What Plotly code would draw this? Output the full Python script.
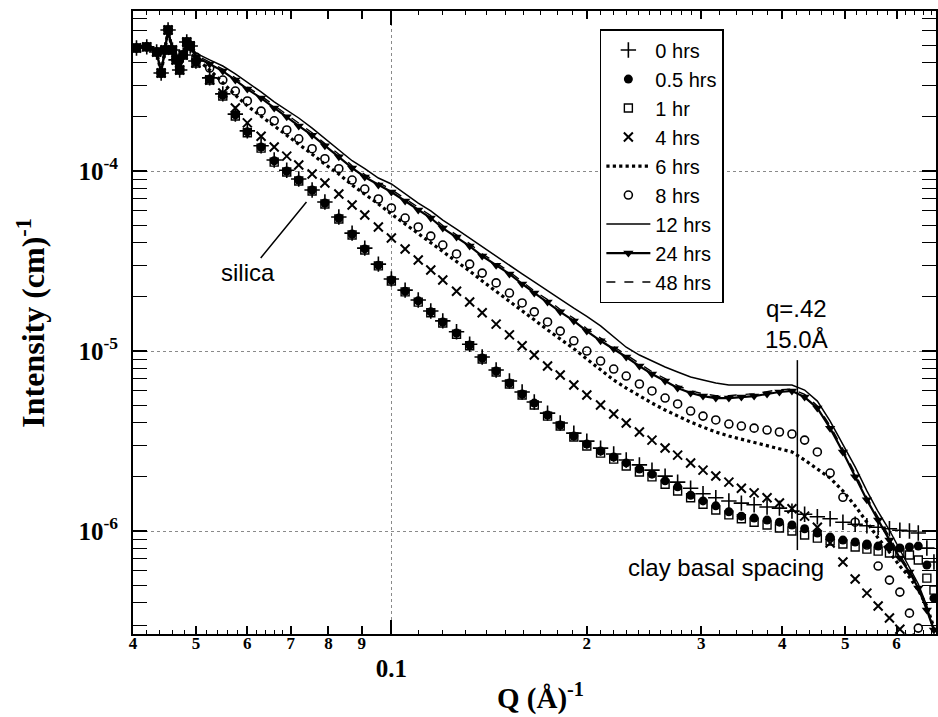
import numpy as np
import plotly.graph_objects as go

# ---------------- data ----------------
# low-q region, common to all samples
q_low = [0.0405, 0.042, 0.0435, 0.0442, 0.0448, 0.0453, 0.046, 0.0466, 0.0472, 0.0478, 0.0484, 0.049]
I_low = [4.82e-4, 4.89e-4, 4.58e-4, 3.50e-4, 4.70e-4, 6.07e-4, 4.70e-4, 4.14e-4, 3.64e-4, 4.41e-4, 5.21e-4, 4.95e-4]

q_main = [0.050, 0.0525, 0.055, 0.0575, 0.060, 0.063, 0.066, 0.069, 0.072, 0.0755,
          0.079, 0.083, 0.087, 0.091, 0.0955, 0.100, 0.105, 0.110, 0.115, 0.120,
          0.126, 0.132, 0.138, 0.145, 0.152, 0.159, 0.166, 0.174, 0.182, 0.191,
          0.200, 0.210, 0.220, 0.230, 0.241, 0.252, 0.264, 0.276, 0.289, 0.302,
          0.316, 0.331, 0.346, 0.362, 0.379, 0.396, 0.414, 0.433, 0.453, 0.474,
          0.496, 0.518, 0.540, 0.562, 0.585, 0.607, 0.628, 0.648, 0.668, 0.685]

I_0h = [4.08e-4, 3.29e-4, 2.68e-4, 2.07e-4, 1.67e-4, 1.38e-4, 1.15e-4, 1.01e-4, 9.03e-5, 7.84e-5,
        6.73e-5, 5.55e-5, 4.52e-5, 3.73e-5, 3.04e-5, 2.51e-5, 2.18e-5, 1.92e-5, 1.67e-5, 1.47e-5,
        1.28e-5, 1.09e-5, 9.26e-6, 7.84e-6, 6.81e-6, 5.92e-6, 5.21e-6, 4.52e-6, 3.98e-6, 3.50e-6,
        3.16e-6, 2.89e-6, 2.68e-6, 2.48e-6, 2.33e-6, 2.18e-6, 2.02e-6, 1.87e-6, 1.73e-6, 1.61e-6,
        1.53e-6, 1.47e-6, 1.43e-6, 1.40e-6, 1.36e-6, 1.34e-6, 1.29e-6, 1.24e-6, 1.20e-6, 1.17e-6,
        1.12e-6, 1.09e-6, 1.07e-6, 1.05e-6, 1.03e-6, 1.01e-6, 1.00e-6, 9.75e-7, 8.05e-7, 6.73e-7]

I_05h = [4.03e-4, 3.24e-4, 2.64e-4, 2.05e-4, 1.65e-4, 1.36e-4, 1.14e-4, 1.00e-4, 8.91e-5, 7.84e-5,
         6.64e-5, 5.48e-5, 4.47e-5, 3.69e-5, 3.00e-5, 2.48e-5, 2.15e-5, 1.90e-5, 1.65e-5, 1.45e-5,
         1.26e-5, 1.08e-5, 9.14e-6, 7.74e-6, 6.64e-6, 5.77e-6, 5.14e-6, 4.41e-6, 3.88e-6, 3.37e-6,
         3.04e-6, 2.78e-6, 2.58e-6, 2.39e-6, 2.21e-6, 2.07e-6, 1.90e-6, 1.76e-6, 1.58e-6, 1.47e-6,
         1.38e-6, 1.28e-6, 1.21e-6, 1.18e-6, 1.15e-6, 1.12e-6, 1.08e-6, 1.03e-6, 9.75e-7, 9.26e-7,
         8.91e-7, 8.69e-7, 8.47e-7, 8.25e-7, 8.15e-7, 8.05e-7, 8.15e-7, 8.25e-7, 6.47e-7, 4.24e-7]

I_1h = [3.98e-4, 3.20e-4, 2.61e-4, 2.02e-4, 1.63e-4, 1.34e-4, 1.12e-4, 9.87e-5, 8.80e-5, 7.74e-5,
        6.56e-5, 5.41e-5, 4.41e-5, 3.64e-5, 2.97e-5, 2.45e-5, 2.13e-5, 1.87e-5, 1.63e-5, 1.43e-5,
        1.24e-5, 1.07e-5, 9.03e-6, 7.64e-6, 6.56e-6, 5.70e-6, 5.01e-6, 4.35e-6, 3.83e-6, 3.33e-6,
        2.97e-6, 2.71e-6, 2.51e-6, 2.30e-6, 2.13e-6, 2.00e-6, 1.82e-6, 1.67e-6, 1.53e-6, 1.41e-6,
        1.31e-6, 1.23e-6, 1.17e-6, 1.12e-6, 1.08e-6, 1.04e-6, 1.00e-6, 9.50e-7, 9.14e-7, 8.80e-7,
        8.47e-7, 8.15e-7, 7.94e-7, 7.74e-7, 7.55e-7, 7.55e-7, 7.36e-7, 6.90e-7, 5.48e-7, 4.70e-7]

I_4h = [3.98e-4, 3.20e-4, 2.71e-4, 2.24e-4, 1.85e-4, 1.56e-4, 1.36e-4, 1.21e-4, 1.08e-4, 9.62e-5,
        8.58e-5, 7.45e-5, 6.47e-5, 5.70e-5, 4.89e-5, 4.24e-5, 3.69e-5, 3.20e-5, 2.82e-5, 2.48e-5,
        2.15e-5, 1.87e-5, 1.63e-5, 1.41e-5, 1.23e-5, 1.07e-5, 9.50e-6, 8.25e-6, 7.36e-6, 6.47e-6,
        5.70e-6, 5.01e-6, 4.47e-6, 3.98e-6, 3.55e-6, 3.20e-6, 2.89e-6, 2.64e-6, 2.39e-6, 2.18e-6,
        2.02e-6, 1.87e-6, 1.73e-6, 1.63e-6, 1.53e-6, 1.43e-6, 1.33e-6, 1.21e-6, 1.05e-6, 8.58e-7,
        6.73e-7, 5.41e-7, 4.52e-7, 3.83e-7, 3.29e-7, 2.85e-7, 2.54e-7, 2.24e-7, 1.92e-7, 1.69e-7]

I_6h = [4.24e-4, 3.64e-4, 3.08e-4, 2.64e-4, 2.30e-4, 2.02e-4, 1.78e-4, 1.58e-4, 1.41e-4, 1.24e-4,
        1.09e-4, 9.62e-5, 8.36e-5, 7.45e-5, 6.56e-5, 5.77e-5, 5.08e-5, 4.52e-5, 4.03e-5, 3.59e-5,
        3.16e-5, 2.78e-5, 2.45e-5, 2.15e-5, 1.90e-5, 1.67e-5, 1.49e-5, 1.31e-5, 1.17e-5, 1.03e-5,
        9.03e-6, 7.84e-6, 6.90e-6, 6.23e-6, 5.62e-6, 5.14e-6, 4.70e-6, 4.35e-6, 4.03e-6, 3.78e-6,
        3.55e-6, 3.37e-6, 3.24e-6, 3.12e-6, 3.00e-6, 2.89e-6, 2.75e-6, 2.48e-6, 2.21e-6, 1.97e-6,
        1.67e-6, 1.38e-6, 1.12e-6, 9.14e-7, 7.64e-7, 6.39e-7, 5.55e-7, 4.70e-7, 3.83e-7, 2.89e-7]

I_8h = [4.30e-4, 3.73e-4, 3.20e-4, 2.78e-4, 2.45e-4, 2.15e-4, 1.90e-4, 1.69e-4, 1.51e-4, 1.33e-4,
        1.17e-4, 1.03e-4, 8.91e-5, 7.94e-5, 6.99e-5, 6.23e-5, 5.48e-5, 4.89e-5, 4.35e-5, 3.88e-5,
        3.46e-5, 3.04e-5, 2.71e-5, 2.39e-5, 2.10e-5, 1.85e-5, 1.65e-5, 1.45e-5, 1.29e-5, 1.14e-5,
        1.00e-5, 8.80e-6, 7.94e-6, 7.26e-6, 6.56e-6, 6.00e-6, 5.48e-6, 5.08e-6, 4.64e-6, 4.35e-6,
        4.14e-6, 3.93e-6, 3.83e-6, 3.73e-6, 3.64e-6, 3.55e-6, 3.46e-6, 3.20e-6, 2.75e-6, 2.10e-6,
        1.54e-6, 1.12e-6, 8.36e-7, 6.39e-7, 5.34e-7, 4.58e-7, 3.50e-7, 2.89e-7, 2.33e-7, 1.92e-7]

I_12h = [4.52e-4, 4.14e-4, 3.83e-4, 3.46e-4, 3.12e-4, 2.75e-4, 2.42e-4, 2.18e-4, 1.97e-4, 1.73e-4,
         1.51e-4, 1.31e-4, 1.14e-4, 1.03e-4, 9.14e-5, 8.47e-5, 7.45e-5, 6.64e-5, 6.00e-5, 5.34e-5,
         4.76e-5, 4.24e-5, 3.78e-5, 3.37e-5, 3.00e-5, 2.68e-5, 2.42e-5, 2.15e-5, 1.94e-5, 1.73e-5,
         1.56e-5, 1.38e-5, 1.20e-5, 1.05e-5, 9.50e-6, 8.80e-6, 8.15e-6, 7.64e-6, 7.17e-6, 6.90e-6,
         6.64e-6, 6.47e-6, 6.47e-6, 6.50e-6, 6.52e-6, 6.50e-6, 6.47e-6, 6.07e-6, 5.27e-6, 4.08e-6,
         3.04e-6, 2.27e-6, 1.67e-6, 1.28e-6, 1.01e-6, 7.84e-7, 6.31e-7, 5.08e-7, 3.83e-7, 2.75e-7]

I_24h = [4.30e-4, 3.93e-4, 3.59e-4, 3.20e-4, 2.85e-4, 2.54e-4, 2.24e-4, 2.00e-4, 1.78e-4, 1.58e-4,
         1.38e-4, 1.20e-4, 1.04e-4, 9.26e-5, 8.36e-5, 7.64e-5, 6.81e-5, 6.07e-5, 5.48e-5, 4.82e-5,
         4.30e-5, 3.83e-5, 3.37e-5, 3.00e-5, 2.68e-5, 2.36e-5, 2.10e-5, 1.87e-5, 1.65e-5, 1.47e-5,
         1.29e-5, 1.14e-5, 1.03e-5, 9.26e-6, 8.25e-6, 7.45e-6, 6.81e-6, 6.23e-6, 5.84e-6, 5.62e-6,
         5.48e-6, 5.48e-6, 5.55e-6, 5.62e-6, 5.77e-6, 5.92e-6, 6.00e-6, 5.55e-6, 4.82e-6, 3.73e-6,
         2.75e-6, 2.00e-6, 1.49e-6, 1.15e-6, 8.91e-7, 7.08e-7, 5.92e-7, 4.82e-7, 3.64e-7, 2.82e-7]

I_48h = [4.40e-4, 4.02e-4, 3.68e-4, 3.29e-4, 2.93e-4, 2.61e-4, 2.31e-4, 2.06e-4, 1.83e-4, 1.63e-4,
         1.42e-4, 1.24e-4, 1.07e-4, 9.55e-5, 8.62e-5, 7.88e-5, 7.02e-5, 6.26e-5, 5.65e-5, 4.97e-5,
         4.43e-5, 3.95e-5, 3.47e-5, 3.09e-5, 2.76e-5, 2.43e-5, 2.16e-5, 1.93e-5, 1.70e-5, 1.52e-5,
         1.33e-5, 1.18e-5, 1.06e-5, 9.55e-6, 8.50e-6, 7.68e-6, 7.02e-6, 6.42e-6, 6.02e-6, 5.79e-6,
         5.65e-6, 5.65e-6, 5.72e-6, 5.80e-6, 5.95e-6, 6.10e-6, 6.15e-6, 5.75e-6, 4.95e-6, 3.85e-6,
         2.85e-6, 2.08e-6, 1.54e-6, 1.19e-6, 9.20e-7, 7.35e-7, 6.05e-7, 4.95e-7, 3.72e-7, 2.85e-7]

series_names = ["0 hrs", "0.5 hrs", "1 hr", "4 hrs", "6 hrs", "8 hrs", "12 hrs", "24 hrs", "48 hrs"]
series_values = [I_0h, I_05h, I_1h, I_4h, I_6h, I_8h, I_12h, I_24h, I_48h]

# clay basal spacing marker
q_basal = 0.422
basal_line_I = [8.9e-6, 7.84e-7]

# axis ticks
x_range_q = [0.04, 0.69]
y_range_I = [2.68e-7, 7.74e-4]
x_tickvals = [0.04, 0.05, 0.06, 0.07, 0.08, 0.09, 0.2, 0.3, 0.4, 0.5, 0.6]
x_ticktext = ["4", "5", "6", "7", "8", "9", "2", "3", "4", "5", "6"]
x_minor = [0.042, 0.044, 0.046, 0.048, 0.052, 0.054, 0.056, 0.058, 0.062, 0.064, 0.066, 0.068,
           0.11, 0.12, 0.13, 0.14, 0.15, 0.16, 0.17, 0.18, 0.19,
           0.21, 0.22, 0.23, 0.24, 0.25, 0.26, 0.27, 0.28, 0.29,
           0.32, 0.34, 0.36, 0.38, 0.42, 0.44, 0.46, 0.48, 0.52, 0.54, 0.56, 0.58,
           0.62, 0.64, 0.66, 0.68]
y_tickvals = [1e-6, 1e-5, 1e-4]
y_ticktext = ["<b>10<sup>-6</sup></b>", "<b>10<sup>-5</sup></b>", "<b>10<sup>-4</sup></b>"]
y_minor = [3e-7, 4e-7, 5e-7, 6e-7, 7e-7, 8e-7, 9e-7,
           2e-6, 3e-6, 4e-6, 5e-6, 6e-6, 7e-6, 8e-6, 9e-6,
           2e-5, 3e-5, 4e-5, 5e-5, 6e-5, 7e-5, 8e-5, 9e-5,
           2e-4, 3e-4, 4e-4, 5e-4, 6e-4, 7e-4]

# ---------------- styles ----------------
K = "black"
styles = {
    "0 hrs": dict(mode="markers", marker=dict(symbol="cross-thin-open", size=11, color=K, line=dict(color=K, width=1.6))),
    "0.5 hrs": dict(mode="markers", marker=dict(symbol="circle", size=9, color=K)),
    "1 hr": dict(mode="markers", marker=dict(symbol="square-open", size=8, color=K, line=dict(color=K, width=1.4))),
    "4 hrs": dict(mode="markers", marker=dict(symbol="x-thin-open", size=9, color=K, line=dict(color=K, width=2))),
    "6 hrs": dict(mode="lines", line=dict(color=K, width=3.2, dash="dot")),
    "8 hrs": dict(mode="markers", marker=dict(symbol="circle-open", size=8, color=K, line=dict(color=K, width=1.6))),
    "12 hrs": dict(mode="lines", line=dict(color=K, width=1.5)),
    "24 hrs": dict(mode="lines+markers", line=dict(color=K, width=2.2),
                   marker=dict(symbol="triangle-down", size=9, color=K)),
    "48 hrs": dict(mode="lines", line=dict(color=K, width=1.4, dash="dash")),
}

fig = go.Figure()

fig.add_trace(go.Scatter(x=[q_basal, q_basal], y=basal_line_I, mode="lines",
                         line=dict(color=K, width=1.5), showlegend=False, hoverinfo="skip",
                         xaxis="x2", yaxis="y"))

for name, vals in zip(series_names, series_values):
    fig.add_trace(go.Scatter(x=q_low + q_main, y=I_low + vals, name=name, **styles[name]))

x_range = [float(np.log10(x_range_q[0])), float(np.log10(x_range_q[1]))]
y_range = [float(np.log10(y_range_I[0])), float(np.log10(y_range_I[1]))]

serif = "Liberation Serif, Times New Roman, serif"
sans = "Liberation Sans, Arial, sans-serif"

fig.update_layout(
    width=938, height=717,
    margin=dict(l=133, r=0, t=11, b=83),
    plot_bgcolor="white", paper_bgcolor="white",
    showlegend=True,
    legend=dict(x=0.5814, y=0.971, xanchor="left", yanchor="top",
                bgcolor="white", bordercolor=K, borderwidth=1.5,
                font=dict(family=sans, size=20, color=K),
                itemwidth=44, tracegroupgap=0),
    xaxis=dict(type="log", range=x_range, showgrid=False, zeroline=False,
               showline=True, linecolor=K, linewidth=2, mirror="allticks",
               ticks="inside", ticklen=8, tickwidth=1.5, tickcolor=K,
               tickmode="array", tickvals=x_tickvals, ticktext=x_ticktext,
               tickfont=dict(family=serif, size=17, color=K, weight="bold"),
               ticklabelstandoff=-7,
               minor=dict(tickmode="array", tickvals=x_minor, ticks="inside", ticklen=4,
                          tickwidth=1.2, tickcolor=K, showgrid=False)),
    xaxis2=dict(type="log", range=x_range, overlaying="x", anchor="y", side="bottom",
                showline=False, zeroline=False, showgrid=True, gridcolor="#8a8a8a",
                griddash="dot", gridwidth=1, mirror="allticks",
                ticks="inside", ticklen=14, tickwidth=1.5, tickcolor=K,
                tickmode="array", tickvals=[0.1], ticktext=["0.1"],
                tickfont=dict(family=serif, size=25, color=K, weight="bold"),
                ticklabelstandoff=17),
    yaxis=dict(type="log", range=y_range, zeroline=False,
               showline=True, linecolor=K, linewidth=2, mirror="allticks",
               showgrid=True, gridcolor="#8a8a8a", griddash="dot", gridwidth=1,
               ticks="inside", ticklen=14, tickwidth=1.5, tickcolor=K,
               tickmode="array", tickvals=y_tickvals, ticktext=y_ticktext,
               tickfont=dict(family=serif, size=25, color=K),
               ticklabelstandoff=8,
               minor=dict(tickmode="array", tickvals=y_minor, ticks="inside", ticklen=8,
                          tickwidth=1.2, tickcolor=K, showgrid=False)),
    annotations=[
        dict(text="silica", x=float(np.log10(0.0740)), y=float(np.log10(6.73e-5)),
             xref="x", yref="y", ax=-58, ay=71, showarrow=True, arrowhead=0,
             arrowwidth=1.5, arrowcolor=K, font=dict(family=sans, size=24, color=K)),
        dict(text="q=.42<br>15.0Å", xref="paper", yref="paper", x=0.826, y=0.4976,
             xanchor="center", yanchor="middle",
             showarrow=False, font=dict(family=sans, size=24, color=K)),
        dict(text="clay basal spacing", xref="paper", yref="paper", x=0.739, y=0.106,
             xanchor="center", yanchor="middle",
             showarrow=False, font=dict(family=sans, size=24, color=K)),
        dict(text="<b>Intensity (cm)<sup>-1</sup></b>", xref="paper", yref="paper",
             x=-0.128, y=0.500, xanchor="center", yanchor="middle",
             textangle=-90, showarrow=False,
             font=dict(family=serif, size=32, color=K)),
        dict(text="<b>Q (Å)<sup>-1</sup></b>", xref="paper", yref="paper",
             x=0.508, y=-0.1011, xanchor="center", yanchor="middle", showarrow=False,
             font=dict(family=serif, size=29, color=K)),
    ],
)

fig.write_html("out.html")
